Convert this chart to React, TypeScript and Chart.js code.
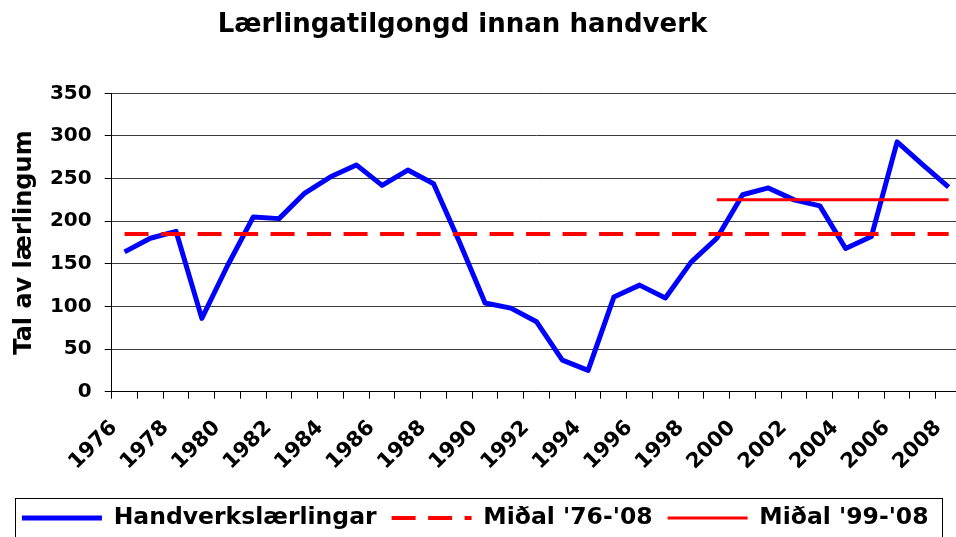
import React, { useEffect, useRef } from 'react';
import { Chart, registerables } from 'chart.js';

Chart.register(...registerables);

const years = [
  '1976', '1977', '1978', '1979', '1980', '1981', '1982', '1983', '1984', '1985', '1986',
  '1987', '1988', '1989', '1990', '1991', '1992', '1993', '1994', '1995', '1996', '1997',
  '1998', '1999', '2000', '2001', '2002', '2003', '2004', '2005', '2006', '2007', '2008',
];

const handverksLaerlingar = [
  164, 180, 188, 86, 148, 205, 203, 233, 252, 266, 242,
  260, 244, 176, 104, 98, 82, 37, 25, 111, 125, 110,
  152, 180, 231, 239, 225, 218, 168, 182, 293, 266, 240,
];

const midal7608 = [
  185, 185, 185, 185, 185, 185, 185, 185, 185, 185, 185,
  185, 185, 185, 185, 185, 185, 185, 185, 185, 185, 185,
  185, 185, 185, 185, 185, 185, 185, 185, 185, 185, 185,
];

const midal9908 = [
  null, null, null, null, null, null, null, null, null, null, null,
  null, null, null, null, null, null, null, null, null, null, null,
  null, 225, 225, 225, 225, 225, 225, 225, 225, 225, 225,
];

const seriesNames = ['Handverkslærlingar', "Miðal '76-'08", "Miðal '99-'08"];
const titleText = 'Lærlingatilgongd innan handverk';
const yTitleText = 'Tal av lærlingum';

const FONT = "'DejaVu Sans', Verdana, sans-serif";

const blockShift = {
  id: 'blockShift',
  afterLayout(chart: any) {
    const t = chart.titleBlock;
    if (t) {
      t.left -= 18.25;
      t.right -= 18.25;
    }
    const lg = chart.legend;
    if (lg) {
      lg.left -= 5.5;
      lg.right -= 5.5;
    }
  },
};

const legendFrame = {
  id: 'legendFrame',
  afterDraw(chart: any) {
    const lg = chart.legend;
    if (!lg || !lg.legendHitBoxes || !lg.legendHitBoxes.length) return;
    const hb = lg.legendHitBoxes;
    const first = hb[0];
    const last = hb[hb.length - 1];
    const cy = first.top + first.height / 2;
    const left = Math.round(first.left - 7) + 0.5;
    const right = Math.round(last.left + last.width + 13) + 0.5;
    const top = Math.round(cy - 20) + 0.5;
    const bottom = Math.round(cy + 21) + 0.5;
    const ctx = chart.ctx;
    ctx.save();
    ctx.strokeStyle = '#000';
    ctx.lineWidth = 1;
    ctx.setLineDash([]);
    ctx.strokeRect(left, top, right - left, bottom - top);
    ctx.restore();
  },
};

export default function App() {
  const ref = useRef<HTMLCanvasElement | null>(null);

  useEffect(() => {
    if (!ref.current) return;
    const chart = new Chart(ref.current, {
      type: 'line',
      data: {
        labels: years,
        datasets: [
          {
            label: seriesNames[0],
            data: handverksLaerlingar,
            borderColor: '#0000FF',
            backgroundColor: '#0000FF',
            borderWidth: 5,
            pointRadius: 0,
            pointStyle: 'line',
            tension: 0,
            borderJoinStyle: 'round',
            order: 1,
          },
          {
            label: seriesNames[1],
            data: midal7608,
            borderColor: '#FF0000',
            backgroundColor: '#FF0000',
            borderWidth: 4,
            borderDash: [24, 12.5],
            pointRadius: 0,
            pointStyle: 'line',
            tension: 0,
            order: 0,
          },
          {
            label: seriesNames[2],
            data: midal9908,
            borderColor: '#FF0000',
            backgroundColor: '#FF0000',
            borderWidth: 3,
            pointRadius: 0,
            pointStyle: 'line',
            tension: 0,
            spanGaps: false,
            order: 0,
          },
        ],
      },
      options: {
        responsive: false,
        animation: false,
        devicePixelRatio: 1,
        layout: { padding: { top: 0, left: 0, right: 13.5, bottom: 5.25 } },
        plugins: {
          title: {
            display: true,
            text: titleText,
            color: '#000',
            font: { family: FONT, size: 26, weight: 'bold', lineHeight: 1.2 },
            padding: { top: 10, bottom: 52.1 },
          },
          legend: {
            display: true,
            position: 'bottom',
            labels: {
              usePointStyle: true,
              pointStyleWidth: 80,
              padding: 15,
              color: '#000',
              font: { family: FONT, size: 23.5, weight: 'bold' },
              sort: (a: any, b: any) => a.datasetIndex - b.datasetIndex,
              generateLabels: (chart: any) => {
                const items = Chart.defaults.plugins.legend.labels.generateLabels(chart);
                return items.map((it: any) => {
                  const ds: any = chart.data.datasets[it.datasetIndex];
                  return {
                    ...it,
                    strokeStyle: ds.borderColor,
                    fillStyle: ds.borderColor,
                    lineWidth: ds.borderWidth,
                    lineDash: ds.borderDash || [],
                    lineDashOffset: 0,
                    lineCap: 'butt',
                    pointStyle: 'line',
                  };
                });
              },
            },
          },
          tooltip: { enabled: false },
        },
        scales: {
          x: {
            type: 'category',
            offset: true,
            grid: {
              display: true,
              drawOnChartArea: false,
              offset: true,
              tickLength: 7,
              tickColor: '#000',
              tickWidth: 1,
            },
            border: { display: true, color: '#000', width: 1 },
            ticks: {
              autoSkip: false,
              maxRotation: 45,
              minRotation: 45,
              color: '#000',
              padding: 17,
              labelOffset: -10.5,
              font: { family: FONT, size: 21, weight: 'bold' },
              callback: (_v: any, i: number) => (i % 2 === 0 ? years[i] : ''),
            },
            afterFit: (s: any) => {
              s.height = 99.55;
              s.paddingLeft = 0;
              s.paddingRight = 0;
            },
          },
          y: {
            min: 0,
            max: 350,
            ticks: {
              stepSize: 50,
              color: '#000',
              padding: 13,
              font: { family: FONT, size: 20, weight: 'bold' },
            },
            grid: { color: '#3a3a3a', lineWidth: 1, tickLength: 7, tickColor: '#000' },
            border: { display: true, color: '#000', width: 1 },
            title: {
              display: true,
              text: yTitleText,
              color: '#000',
              font: { family: FONT, size: 24, weight: 'bold', lineHeight: 1.2 },
              padding: { top: 10.5, bottom: 0 },
            },
            afterFit: (s: any) => {
              s.width = 111.7;
            },
          },
        },
      },
      plugins: [blockShift, legendFrame],
    } as any);
    return () => chart.destroy();
  }, []);

  return (
    <div
      style={{
        position: 'fixed',
        left: 0,
        top: 0,
        width: 956,
        height: 537,
        overflow: 'hidden',
        background: '#fff',
      }}
    >
      <canvas ref={ref} width={975} height={545} style={{ display: 'block', width: 975, height: 545 }} />
    </div>
  );
}
